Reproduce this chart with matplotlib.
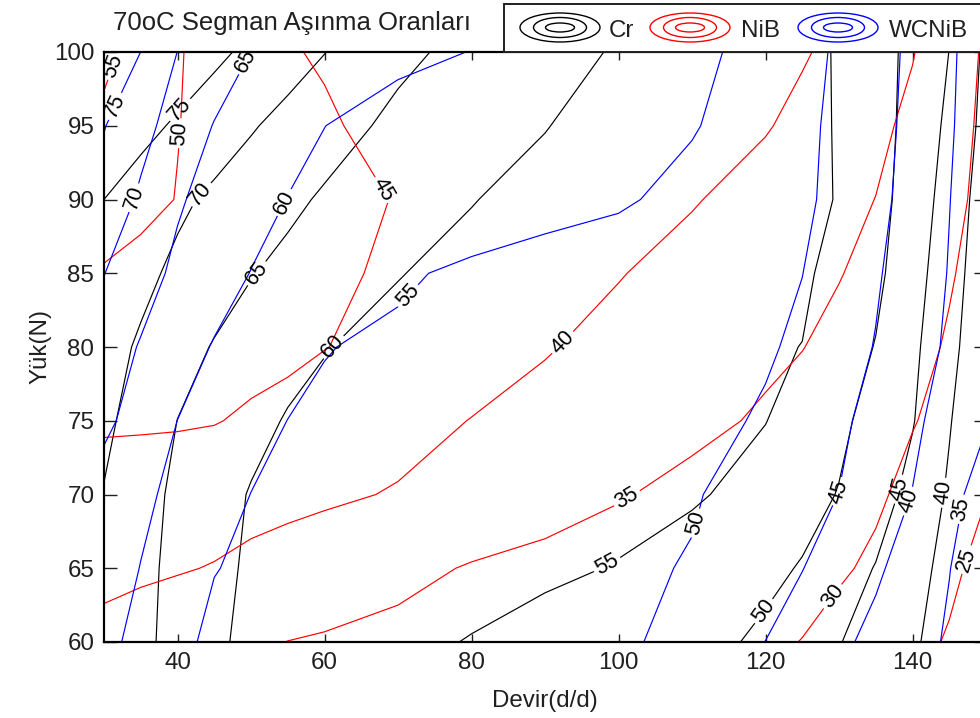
import numpy as np
import matplotlib
matplotlib.use("Agg")
import matplotlib.pyplot as plt
from matplotlib.patches import Ellipse, Rectangle
from matplotlib.transforms import Affine2D

plt.rcParams['font.family'] = ['Liberation Sans', 'DejaVu Sans']

# Grid of measurement points: Devir (d/d) along x, Yük (N) along y
devir = [30, 35, 40, 45, 50, 55, 60, 70, 80, 90, 100, 110, 120, 125, 130, 135, 140, 145, 150]
yuk = [60, 65, 70, 75, 80, 85, 90, 95, 100]

# Wear rates for the Cr coated ring (rows follow yuk, columns follow devir)
cr = [
    [67.5, 66.0, 63.6, 61.1, 58.5, 57.9, 57.3, 56.0, 54.8, 53.8, 52.7, 51.55, 49.2, 47.0, 45.2, 42.9, 40.5, 38.3, 36.0],
    [68.5, 66.2, 63.8, 61.5, 59.2, 59.0, 58.6, 57.6, 56.6, 55.6, 54.82, 52.8, 51.0, 49.7, 47.1, 44.8, 41.6, 38.6, 36.0],
    [69.8, 66.9, 64.0, 61.9, 59.7, 59.4, 59.1, 58.4, 57.6, 56.9, 56.2, 55.6, 53.2, 51.6, 49.8, 47.2, 43.5, 39.4, 35.5],
    [71.0, 68.0, 64.95, 63.2, 61.4, 59.65, 59.4, 58.8, 58.0, 57.3, 56.5, 55.8, 55.1, 53.1, 51.0, 48.3, 45.3, 40.3, 35.8],
    [71.8, 69.4, 66.8, 64.7, 63.1, 61.6, 60.1, 59.2, 58.5, 57.7, 56.9, 56.1, 55.4, 54.95, 52.4, 49.8, 46.0, 41.4, 36.4],
    [73.7, 71.2, 69.0, 67.1, 65.2, 63.9, 62.6, 60.1, 59.2, 58.3, 57.4, 56.6, 55.9, 55.6, 53.8, 51.1, 46.9, 42.2, 37.0],
    [75.0, 73.0, 70.9, 69.1, 67.5, 65.9, 64.5, 62.4, 60.1, 59.1, 58.0, 57.0, 56.0, 55.5, 54.9, 51.8, 47.8, 43.0, 37.6],
    [78.3, 76.3, 74.4, 72.4, 70.4, 68.6, 66.8, 64.0, 62.2, 60.1, 58.8, 57.5, 56.2, 55.6, 54.85, 52.0, 48.4, 44.0, 38.5],
    [79.6, 78.9, 77.8, 76.0, 74.0, 72.0, 70.1, 66.0, 63.7, 61.6, 59.6, 58.1, 56.5, 55.7, 54.8, 51.9, 48.8, 44.95, 39.0],
]

# Wear rates for the NiB coated ring
nib = [
    [38.8, 38.0, 37.2, 36.5, 35.7, 34.95, 34.6, 33.9, 33.2, 32.5, 31.8, 31.0, 30.4, 29.95, 28.6, 27.3, 26.0, 24.7, 23.4],
    [41.1, 40.7, 40.3, 39.8, 39.0, 38.3, 37.5, 36.1, 34.7, 33.8, 32.9, 32.0, 31.1, 30.8, 30.5, 29.3, 27.4, 25.7, 23.9],
    [43.3, 42.9, 42.4, 42.0, 41.5, 41.1, 40.7, 39.7, 38.2, 36.8, 35.3, 33.9, 32.5, 31.7, 31.1, 30.6, 28.9, 27.0, 25.1],
    [45.5, 45.5, 45.45, 45.2, 44.4, 43.7, 42.9, 41.4, 39.9, 38.6, 37.3, 36.0, 34.5, 33.4, 32.4, 31.3, 30.2, 28.8, 27.3],
    [47.6, 47.2, 46.8, 46.4, 46.4, 45.9, 45.1, 43.6, 41.9, 40.3, 38.7, 37.3, 35.8, 35.1, 33.8, 32.5, 31.1, 29.65, 27.9],
    [49.7, 49.0, 48.4, 47.7, 47.0, 46.4, 45.7, 44.4, 42.9, 41.5, 40.2, 38.5, 36.9, 36.0, 35.2, 33.7, 32.0, 30.3, 28.6],
    [51.9, 50.9, 49.9, 49.0, 48.2, 47.3, 46.4, 44.8, 43.7, 42.6, 41.4, 40.3, 38.3, 37.2, 36.1, 34.95, 33.0, 31.0, 29.0],
    [54.0, 52.0, 50.1, 48.9, 47.8, 46.6, 45.25, 44.3, 43.5, 42.6, 41.8, 40.9, 40.3, 38.9, 37.4, 35.9, 34.1, 31.6, 29.2],
    [56.1, 53.2, 50.3, 48.6, 47.1, 45.15, 44.8, 44.0, 43.3, 42.6, 41.9, 41.2, 40.5, 40.4, 38.9, 37.0, 35.2, 32.4, 29.4],
]

# Wear rates for the WCNiB coated ring
wcnib = [
    [61.2, 58.7, 55.8, 54.3, 54.2, 53.9, 53.5, 52.9, 52.2, 51.6, 51.0, 48.1, 44.97, 43.0, 40.9, 38.8, 36.6, 34.5, 32.3],
    [62.2, 59.9, 57.6, 55.1, 54.5, 54.2, 53.8, 53.0, 52.2, 51.6, 50.9, 49.7, 46.5, 45.1, 42.9, 40.7, 38.0, 35.1, 32.4],
    [63.0, 60.9, 58.9, 56.8, 54.95, 54.6, 54.2, 53.4, 52.6, 51.8, 51.1, 50.4, 47.8, 46.4, 44.95, 42.4, 39.9, 36.4, 32.9],
    [66.0, 63.0, 59.97, 58.3, 56.5, 54.96, 54.5, 53.8, 53.1, 52.5, 51.9, 51.4, 49.5, 47.6, 45.8, 43.6, 40.9, 38.1, 35.3],
    [67.3, 64.7, 62.0, 59.7, 58.2, 56.7, 55.12, 54.4, 53.6, 52.7, 51.9, 51.2, 50.5, 49.2, 46.9, 44.8, 42.1, 39.3, 36.5],
    [70.1, 66.8, 64.1, 61.9, 59.9, 58.9, 57.9, 55.5, 54.3, 53.4, 52.4, 51.5, 50.6, 50.05, 47.8, 45.5, 42.7, 39.8, 37.0],
    [73.1, 69.3, 65.5, 63.4, 61.6, 59.9, 59.4, 58.4, 57.4, 56.4, 55.6, 53.6, 51.8, 50.8, 48.75, 46.25, 43.4, 40.1, 37.0],
    [75.2, 71.5, 68.0, 64.8, 63.2, 61.6, 60.02, 59.0, 58.1, 57.1, 56.2, 55.35, 52.4, 50.9, 49.1, 46.6, 43.8, 40.5, 37.0],
    [79.5, 74.98, 69.95, 67.6, 64.98, 63.6, 62.3, 60.6, 59.95, 58.6, 57.1, 56.0, 53.6, 51.4, 49.4, 46.8, 44.1, 40.8, 37.0],
]

levels = [20, 25, 30, 35, 40, 45, 50, 55, 60, 65, 70, 75, 80]
series_names = ['Cr', 'NiB', 'WCNiB']
series_colors = ['black', 'red', 'blue']

# Where each contour label sits (Devir, Yük)
cr_label_pos = [(40.1, 96.2), (43.3, 90.3), (50.5, 85.1), (60.6, 80.3),
                (98.5, 65.2), (120.0, 62.0), (138.6, 70.3), (144.6, 70.1)]
nib_label_pos = [(31.6, 99.0), (40.2, 94.5), (67.8, 90.6), (92.0, 80.5),
                 (101.2, 69.7), (130.2, 62.7), (147.3, 65.6)]
wcnib_label_pos = [(32.0, 96.2), (34.2, 90.1), (49.6, 99.3), (54.1, 89.9),
                   (70.0, 84.1), (110.2, 68.1), (130.6, 70.1), (140.3, 69.4), (146.6, 69.0)]

W, H = 980, 718
fig = plt.figure(figsize=(W / 100, H / 100), dpi=100)
px = Affine2D().scale(1.0 / W, 1.0 / H) + fig.transFigure   # pixel coords, origin bottom-left

ax_left, ax_right, ax_top, ax_bottom = 104, 986, 52, 642
ax = fig.add_axes([ax_left / W, 1 - ax_bottom / H,
                   (ax_right - ax_left) / W, (ax_bottom - ax_top) / H])

X, Y = np.meshgrid(devir, yuk)
for z, color, pos in zip([cr, nib, wcnib], series_colors,
                         [cr_label_pos, nib_label_pos, wcnib_label_pos]):
    cs = ax.contour(X, Y, np.array(z), levels=levels, colors=color, linewidths=0.85)
    ax.clabel(cs, manual=pos, inline=True, inline_spacing=3, fmt='%d',
              fontsize=15.5, colors='k')

ax.set_xlim(30, 150)
ax.set_ylim(60, 100)
ax.set_xticks([40, 60, 80, 100, 120, 140])
ax.set_yticks([60, 65, 70, 75, 80, 85, 90, 95, 100])
ax.tick_params(direction='in', length=6, width=1, top=True, right=True,
               labelsize=17.4, pad=7, colors='#202020', labelcolor='#202020')
ax.tick_params(axis='y', which='both', length=9)
for sp in ax.spines.values():
    sp.set_linewidth(1.6)
ax.set_xlabel('Devir(d/d)', fontsize=17.4, labelpad=12, color='#202020')
ax.set_ylabel('Yük(N)', fontsize=17.4, labelpad=2, color='#202020')

# Title
fig.text(292 / W, 1 - 30 / H, '70oC Segman Aşınma Oranları', ha='center',
         va='baseline', fontsize=18.5, color='#202020')

# Legend box with contour-style icons
fig.add_artist(Rectangle((504, H - 52), 520, 48, transform=px, facecolor='white',
                         edgecolor='#202020', linewidth=1.4))
icon_x = [560, 690, 838]
text_x = [609, 741, 889]
for name, color, cx, tx in zip(series_names, series_colors, icon_x, text_x):
    for w, h in [(80, 29), (53, 20), (29, 9)]:
        fig.add_artist(Ellipse((cx, H - 27.5), w, h, transform=px, fill=False,
                               edgecolor=color, linewidth=1.0))
    fig.text(tx / W, 1 - 37 / H, name, ha='left', va='baseline',
             fontsize=17.4, color='#202020')

fig.savefig('out.png', dpi=100)
